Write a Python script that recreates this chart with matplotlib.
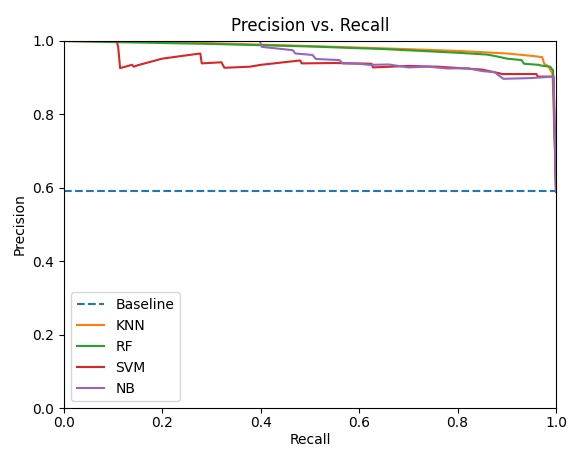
import matplotlib
matplotlib.use("Agg")
import matplotlib.pyplot as plt

# Precision / recall vertices for each classifier
baseline_precision = 0.59

knn_recall = [0.0, 0.10, 0.30, 0.48, 0.65, 0.80, 0.90, 0.954, 0.972, 0.976, 0.985, 0.993, 1.0]
knn_precision = [1.0, 0.999, 0.994, 0.987, 0.980, 0.973, 0.966, 0.959, 0.956, 0.938, 0.930, 0.910, 0.59]

rf_recall = [0.0, 0.10, 0.30, 0.50, 0.65, 0.80, 0.86, 0.88, 0.90, 0.93, 0.935, 0.965, 0.97, 0.988, 0.994, 1.0]
rf_precision = [1.0, 0.997, 0.992, 0.985, 0.978, 0.968, 0.963, 0.958, 0.952, 0.948, 0.938, 0.935, 0.933, 0.930, 0.920, 0.59]

svm_recall = [0.0, 0.107, 0.110, 0.114, 0.138, 0.142, 0.150, 0.20, 0.277, 0.280, 0.32, 0.326,
              0.378, 0.40, 0.48, 0.483, 0.55, 0.625, 0.628, 0.70, 0.76, 0.85, 0.885, 0.89,
              0.96, 0.963, 0.995, 1.0]
svm_precision = [1.0, 1.0, 0.985, 0.926, 0.935, 0.930, 0.934, 0.952, 0.966, 0.939, 0.942, 0.927,
                 0.930, 0.935, 0.947, 0.939, 0.940, 0.938, 0.928, 0.932, 0.930, 0.922, 0.912, 0.910,
                 0.910, 0.903, 0.903, 0.59]

nb_recall = [0.0, 0.398, 0.402, 0.465, 0.470, 0.505, 0.512, 0.56, 0.566, 0.60, 0.62, 0.66,
             0.70, 0.74, 0.78, 0.82, 0.85, 0.875, 0.885, 0.893, 0.95, 0.995, 1.0]
nb_precision = [1.0, 1.0, 0.984, 0.975, 0.966, 0.962, 0.951, 0.948, 0.939, 0.938, 0.935, 0.936,
                0.928, 0.930, 0.925, 0.926, 0.918, 0.915, 0.905, 0.897, 0.899, 0.903, 0.59]

fig = plt.figure(figsize=(5.68, 4.49), dpi=100)
ax = fig.add_axes([0.1127, 0.0913, 0.8662, 0.8174])

ax.axhline(baseline_precision, color="C0", linestyle="--", label="Baseline")
ax.plot(knn_recall, knn_precision, color="C1", label="KNN")
ax.plot(rf_recall, rf_precision, color="C2", label="RF")
ax.plot(svm_recall, svm_precision, color="C3", label="SVM")
ax.plot(nb_recall, nb_precision, color="C4", label="NB")

ax.set_xlim(0, 1)
ax.set_ylim(0, 1)
ax.tick_params(axis="x", pad=2.5)
ax.set_xlabel("Recall", labelpad=2)
ax.set_ylabel("Precision")
ax.set_title("Precision vs. Recall", pad=7.5)
ax.legend(loc="lower left")

fig.savefig("out.png", dpi=100)
